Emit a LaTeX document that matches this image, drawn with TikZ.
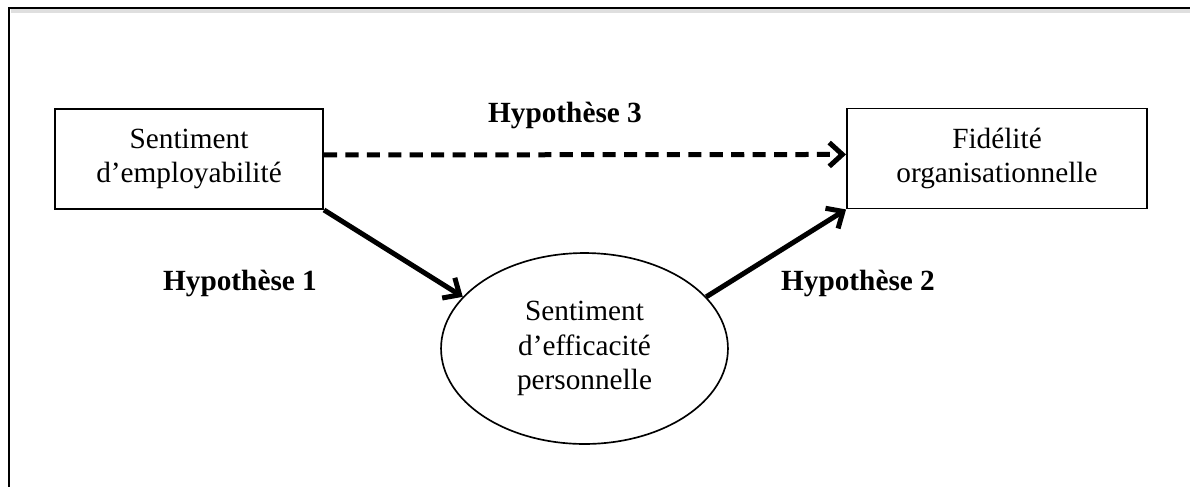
\documentclass[tikz,border=0pt]{standalone}
\usepackage{fontspec}
\setmainfont{Liberation Serif}
\usetikzlibrary{arrows.meta,shapes.geometric}

\begin{document}
\begin{tikzpicture}
      [x = 0.42pt, y = -0.42pt,
      font = \fontsize{12.3}{14.4}\selectfont,
      frame/.style = {line width = 1pt},
      varbox/.style = {
         draw,
         line width = 0.8pt,
         align = center,
         inner sep = 0pt,
         minimum height = 42pt
      },
      mediator/.style = {
         draw,
         ellipse,
         line width = 0.7pt,
         align = center,
         inner sep = 0pt,
         minimum width = 120.5pt,
         minimum height = 80.2pt
      },
      hyp/.style = {font = \fontsize{12.3}{14.4}\selectfont\bfseries},
      link/.style = {line width = 2.1pt, -{Straight Barb[length = 5.5pt, width = 10pt, line width = 2.1pt]}},
      dashlink/.style = {link, dash pattern = on 5.5pt off 3.5pt}]
      \useasboundingbox (0, 0) rectangle (1190, 486);
      \clip (0, 0) rectangle (1190, 486);

      % outer frame
      \draw[gray!25, line width = 2pt] (11, 11) -- (1195, 11);
      \draw[frame] (9, 8) rectangle (1196, 495);

      \node[varbox, minimum width = 112.6pt] (empl) at (189, 159)
         {Sentiment\\d'employabilité};
      \node[varbox, minimum width = 126pt] (fidel) at (997, 158.5)
         {Fidélité\\organisationnelle};
      \node[mediator] (effic) at (584.5, 348.5)
         {Sentiment\\d'efficacité\\personnelle};

      \draw[dashlink] ([yshift = 1.7pt]empl.east) -- ([yshift = 1.7pt]fidel.west);
      \draw[link] (empl.south east) -- (effic.157);
      \draw[link] (effic.23) -- (fidel.south west);

      \node[hyp] (h3) at (565, 115) {Hypothèse 3};
      \node[hyp] (h1) at (240, 283) {Hypothèse 1};
      \node[hyp] (h2) at (858, 283) {Hypothèse 2};

   \end{tikzpicture}
\end{document}
